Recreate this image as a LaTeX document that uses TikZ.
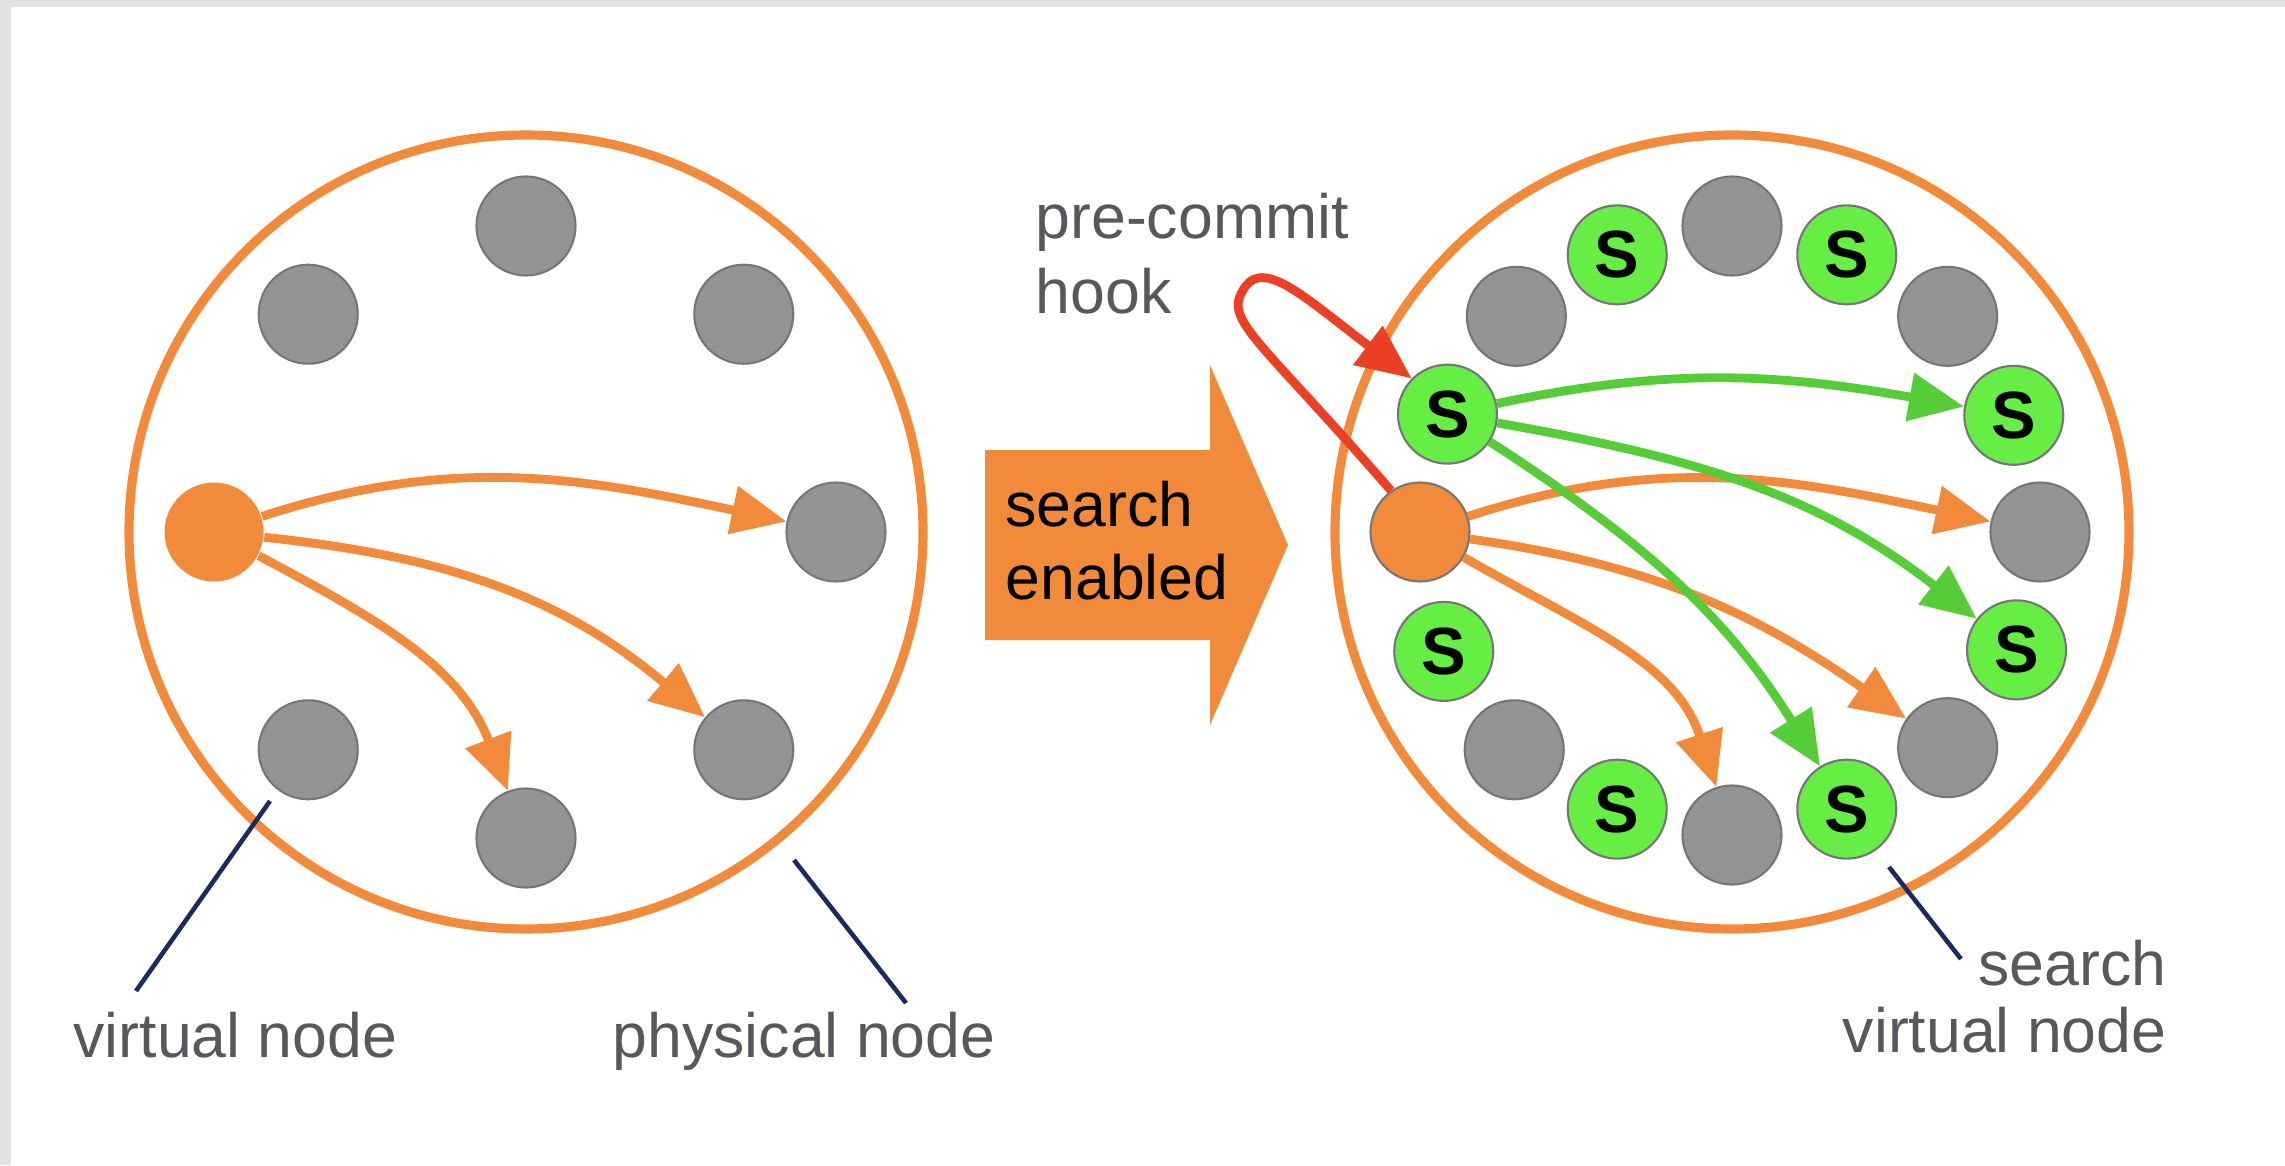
\documentclass[tikz,border=0pt]{standalone}
\usepackage{fontspec}
\setmainfont{Liberation Sans}
\usetikzlibrary{arrows.meta}

\definecolor{ringorange}{RGB}{241,139,59}
\definecolor{nodegray}{RGB}{148,148,148}
\definecolor{nodeedge}{RGB}{118,118,118}
\definecolor{searchgreen}{RGB}{102,238,68}
\definecolor{flowgreen}{RGB}{86,204,56}
\definecolor{hookred}{RGB}{236,64,36}
\definecolor{leadernavy}{RGB}{28,43,94}
\definecolor{notegray}{RGB}{88,88,92}
\definecolor{framegray}{RGB}{226,226,226}

\tikzset{
  vnode/.style={circle, draw=nodeedge, line width=0.6pt, fill=nodegray, minimum size=0.99cm, inner sep=0pt},
  snode/.style={vnode, fill=searchgreen, font=\fontsize{19}{19}\selectfont\bfseries},
  hotnode/.style={vnode, fill=ringorange},
  ring/.style={circle, draw=ringorange, line width=2.6pt, minimum size=7.94cm, inner sep=0pt},
  flow/.style={line width=2.5pt, -{Triangle[length=0.55cm,width=0.47cm]}},
  leader/.style={draw=leadernavy, line width=1.3pt},
  note/.style={text=notegray, font=\fontsize{17.8}{21.3}\selectfont, inner sep=0pt},
}

\begin{document}
\begin{tikzpicture}
\useasboundingbox (0,0) rectangle (22.85,11.65);
\fill[white] (0,0) rectangle (22.85,11.65);
\fill[framegray] (0,0) rectangle (0.11,11.65);
\fill[framegray] (0,11.58) rectangle (22.85,11.65);

% physical nodes
\node[ring] (lring) at (5.26,6.33) {};
\node[ring] (rring) at (17.32,6.33) {};

% left ring, before
\begin{scope}[shift={(5.26,6.33)}]
\node[vnode] (a0) at (0:3.1) {};
\node[vnode] (a45) at (45:3.08) {};
\node[vnode] (a90) at (90:3.06) {};
\node[vnode] (a135) at (135:3.08) {};
\node[hotnode, draw=none] (asrc) at (180:3.12) {};
\node[vnode] (a225) at (225:3.08) {};
\node[vnode] (a270) at (270:3.06) {};
\node[vnode] (a315) at (315:3.08) {};
\end{scope}

% right ring, after
\begin{scope}[shift={(17.32,6.33)}]
\node[vnode] (b0) at (0:3.08) {};
\node[snode] (b22) at (22.5:3.05) {S};
\node[vnode] (b45) at (45:3.05) {};
\node[snode] (b67) at (67.5:3.0) {S};
\node[vnode] (b90) at (90:3.06) {};
\node[snode] (b112) at (112.5:3.0) {S};
\node[vnode] (b135) at (135:3.05) {};
\node[snode] (b157) at (157.5:3.08) {S};
\node[hotnode] (bsrc) at (180:3.12) {};
\node[snode] (b202) at (202.5:3.12) {S};
\node[vnode] (b225) at (225:3.08) {};
\node[snode] (b247) at (247.5:3.0) {S};
\node[vnode] (b270) at (270:3.03) {};
\node[snode] (b292) at (292.5:3.0) {S};
\node[vnode] (b315) at (315:3.05) {};
\node[snode] (b337) at (337.5:3.08) {S};
\end{scope}

\path[draw,flow,ringorange] (asrc) to[out=18,in=168] (a0);
\path[draw,flow,ringorange] (asrc) to[out=-6,in=140] (a315);
\path[draw,flow,ringorange] (asrc) to[out=-28,in=111] (a270);

\path[draw,flow,ringorange] (bsrc) to[out=18,in=168] (b0);
\path[draw,flow,ringorange] (bsrc) to[out=-8,in=145] (b315);
\path[draw,flow,ringorange] (bsrc) to[out=-30,in=108] (b270);

\path[draw,flow,flowgreen] (b157) to[out=12,in=170] (b22);
\path[draw,flow,flowgreen] (b157) to[out=-10,in=142] (b337);
\path[draw,flow,flowgreen] (b157) to[out=-33,in=122] (b292);

% pre-commit hook loop
\coordinate (hooktop) at (12.45,8.78);
\path[draw,flow,hookred] (bsrc.125) .. controls +(131:2.1) and +(235:0.4) .. (hooktop)
  .. controls +(55:0.35) and +(143:1.3) .. (b157.135);

% big arrow
\fill[ringorange] (9.85,5.25) -- (12.10,5.25) -- (12.10,4.40) -- (12.88,6.20)
  -- (12.10,8.00) -- (12.10,7.15) -- (9.85,7.15) -- cycle;
\node[note, text=black, anchor=base west, align=left,
  font=\fontsize{17.8}{20.5}\selectfont] (switch) at (10.05,5.66) {search\\enabled};

% labels
\node[note, anchor=base west, align=left] (hooknote) at (10.35,8.52) {pre-commit\\hook};
\node[note, anchor=base west] (vnote) at (0.73,1.08) {virtual node};
\node[note, anchor=base west] (pnote) at (6.12,1.08) {physical node};
\node[note, anchor=base east, align=right,
  font=\fontsize{17.8}{19}\selectfont] (snote) at (21.67,1.13) {search\\virtual node};

\coordinate (vtip) at (2.70,3.64);
\coordinate (vfoot) at (1.36,1.74);
\coordinate (ptip) at (7.94,3.05);
\coordinate (pfoot) at (9.06,1.62);
\coordinate (stip) at (18.89,2.98);
\coordinate (sfoot) at (19.61,2.06);
\path[leader] (vtip) -- (vfoot);
\path[leader] (ptip) -- (pfoot);
\path[leader] (stip) -- (sfoot);
\end{tikzpicture}
\end{document}
